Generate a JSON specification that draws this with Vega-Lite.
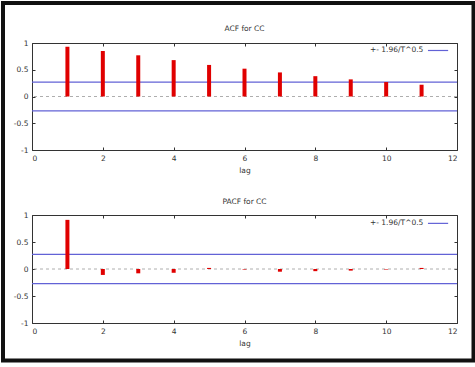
{
  "$schema": "https://vega.github.io/schema/vega-lite/v6.json",
  "autosize": {"type": "pad"},
  "padding": 0,
  "background": "white",
  "bounds": "flush",
  "spacing": 65,
  "datasets": {
    "acf": [
      {"lag": 1, "value": 0.93}, {"lag": 2, "value": 0.85}, {"lag": 3, "value": 0.77},
      {"lag": 4, "value": 0.68}, {"lag": 5, "value": 0.59}, {"lag": 6, "value": 0.52},
      {"lag": 7, "value": 0.45}, {"lag": 8, "value": 0.38}, {"lag": 9, "value": 0.32},
      {"lag": 10, "value": 0.27}, {"lag": 11, "value": 0.22}
    ],
    "pacf": [
      {"lag": 1, "value": 0.91}, {"lag": 2, "value": -0.11}, {"lag": 3, "value": -0.08},
      {"lag": 4, "value": -0.07}, {"lag": 5, "value": 0.02}, {"lag": 6, "value": -0.01},
      {"lag": 7, "value": -0.05}, {"lag": 8, "value": -0.04}, {"lag": 9, "value": -0.03},
      {"lag": 10, "value": -0.01}, {"lag": 11, "value": 0.02}
    ],
    "bounds": [{"b": 0.27}, {"b": -0.27}],
    "one": [{"label": "+- 1.96/T^0.5", "acfTitle": "ACF for CC", "pacfTitle": "PACF for CC"}]
  },
  "config": {
    "font": "DejaVu Sans",
    "view": {"stroke": "#333", "strokeWidth": 1},
    "axis": {
      "domain": false, "grid": false,
      "labelFontSize": 7.5, "labelColor": "#333",
      "titleFontSize": 7.5, "titleFontWeight": "normal", "titleColor": "#333",
      "tickColor": "#333", "tickSize": -3, "labelPadding": 7, "titlePadding": 5
    }
  },
  "vconcat": [
    {
      "width": 425, "height": 107,
      "resolve": {"axis": {"x": "independent", "y": "independent"}},
      "layer": [
        {
          "data": {"name": "bounds"},
          "mark": {"type": "rule", "color": "#6262d6", "strokeWidth": 1.2},
          "encoding": {
            "y": {"field": "b", "type": "quantitative", "scale": {"domain": [-1, 1], "nice": false},
                  "axis": {"orient": "right", "labels": false, "title": null, "values": [-1, -0.5, 0, 0.5, 1]}}
          }
        },
        {
          "data": {"name": "one"},
          "mark": {"type": "rule", "color": "#999", "strokeDash": [3, 3], "strokeWidth": 0.8},
          "encoding": {"y": {"datum": 0, "axis": null}}
        },
        {
          "data": {"name": "acf"},
          "mark": {"type": "rule", "color": "#e00000", "strokeWidth": 4},
          "encoding": {
            "x": {"field": "lag", "type": "quantitative", "scale": {"domain": [0, 12], "nice": false},
                  "axis": {"orient": "bottom", "title": "lag", "values": [0, 2, 4, 6, 8, 10, 12]}},
            "y": {"field": "value", "type": "quantitative", "scale": {"domain": [-1, 1], "nice": false},
                  "axis": {"orient": "left", "title": null, "values": [-1, -0.5, 0, 0.5, 1], "labelExpr": "'' + datum.value"}},
            "y2": {"datum": 0}
          }
        },
        {
          "data": {"name": "one"},
          "mark": {"type": "text", "align": "right", "baseline": "middle", "fontSize": 7.5, "color": "#333"},
          "encoding": {
            "x": {"datum": 11.05, "axis": {"orient": "top", "labels": false, "title": null, "values": [0, 2, 4, 6, 8, 10, 12]}},
            "y": {"datum": 0.86, "axis": null},
            "text": {"field": "label"}
          }
        },
        {
          "data": {"name": "one"},
          "mark": {"type": "text", "align": "center", "baseline": "middle", "fontSize": 7.5, "color": "#333"},
          "encoding": {
            "x": {"datum": 6, "axis": null},
            "y": {"datum": 1.262, "axis": null},
            "text": {"field": "acfTitle"}
          }
        },
        {
          "data": {"name": "one"},
          "mark": {"type": "rule", "color": "#6262d6", "strokeWidth": 1.2},
          "encoding": {
            "x": {"datum": 11.18, "axis": null},
            "x2": {"datum": 11.75},
            "y": {"datum": 0.86, "axis": null}
          }
        },
        {
          "data": {"name": "one"},
          "mark": {"type": "rect", "fill": "transparent", "stroke": "#111", "strokeWidth": 4},
          "encoding": {
            "x": {"datum": -0.819, "axis": null},
            "x2": {"datum": 12.466},
            "y": {"datum": 1.748, "axis": null},
            "y2": {"datum": -4.935}
          }
        }
      ]
    },
    {
      "width": 425, "height": 108,
      "resolve": {"axis": {"x": "independent", "y": "independent"}},
      "layer": [
        {
          "data": {"name": "bounds"},
          "mark": {"type": "rule", "color": "#6262d6", "strokeWidth": 1.2},
          "encoding": {
            "y": {"field": "b", "type": "quantitative", "scale": {"domain": [-1, 1], "nice": false},
                  "axis": {"orient": "right", "labels": false, "title": null, "values": [-1, -0.5, 0, 0.5, 1]}}
          }
        },
        {
          "data": {"name": "one"},
          "mark": {"type": "rule", "color": "#999", "strokeDash": [3, 3], "strokeWidth": 0.8},
          "encoding": {"y": {"datum": 0, "axis": null}}
        },
        {
          "data": {"name": "pacf"},
          "mark": {"type": "rule", "color": "#e00000", "strokeWidth": 4},
          "encoding": {
            "x": {"field": "lag", "type": "quantitative", "scale": {"domain": [0, 12], "nice": false},
                  "axis": {"orient": "bottom", "title": "lag", "values": [0, 2, 4, 6, 8, 10, 12]}},
            "y": {"field": "value", "type": "quantitative", "scale": {"domain": [-1, 1], "nice": false},
                  "axis": {"orient": "left", "title": null, "values": [-1, -0.5, 0, 0.5, 1], "labelExpr": "'' + datum.value"}},
            "y2": {"datum": 0}
          }
        },
        {
          "data": {"name": "one"},
          "mark": {"type": "text", "align": "right", "baseline": "middle", "fontSize": 7.5, "color": "#333"},
          "encoding": {
            "x": {"datum": 11.05, "axis": {"orient": "top", "labels": false, "title": null, "values": [0, 2, 4, 6, 8, 10, 12]}},
            "y": {"datum": 0.845, "axis": null},
            "text": {"field": "label"}
          }
        },
        {
          "data": {"name": "one"},
          "mark": {"type": "text", "align": "center", "baseline": "middle", "fontSize": 7.5, "color": "#333"},
          "encoding": {
            "x": {"datum": 6, "axis": null},
            "y": {"datum": 1.246, "axis": null},
            "text": {"field": "pacfTitle"}
          }
        },
        {
          "data": {"name": "one"},
          "mark": {"type": "rule", "color": "#6262d6", "strokeWidth": 1.2},
          "encoding": {
            "x": {"datum": 11.18, "axis": null},
            "x2": {"datum": 11.75},
            "y": {"datum": 0.845, "axis": null}
          }
        }
      ]
    }
  ]
}
